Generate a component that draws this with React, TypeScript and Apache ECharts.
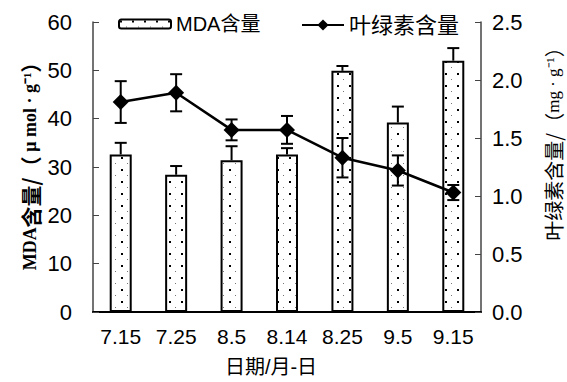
import React, { useEffect, useRef } from "react";
import * as echarts from "echarts";

const categories = ["7.15", "7.25", "8.5", "8.14", "8.25", "9.5", "9.15"];
const mdaValues = [32.6, 28.4, 31.4, 32.6, 49.9, 39.2, 52.0];
const mdaErrors = [2.4, 1.8, 2.9, 1.3, 1.0, 3.3, 2.6];
const chlValues = [1.81, 1.89, 1.57, 1.57, 1.33, 1.22, 1.03];
const chlErrors = [0.18, 0.16, 0.09, 0.12, 0.17, 0.13, 0.065];
const leftTicks = [0, 10, 20, 30, 40, 50, 60];
const rightTicks = [0, 0.5, 1.0, 1.5, 2.0, 2.5];

function makePattern(): HTMLCanvasElement {
  const c = document.createElement("canvas");
  c.width = 12;
  c.height = 12;
  const ctx = c.getContext("2d")!;
  ctx.fillStyle = "#fff";
  ctx.fillRect(0, 0, 12, 12);
  ctx.fillStyle = "#000";
  ctx.fillRect(1, 1, 2, 2);
  ctx.fillStyle = "#777";
  ctx.fillRect(7, 7, 1, 1);
  return c;
}

export default function App() {
  const ref = useRef<HTMLDivElement>(null);
  useEffect(() => {
    const chart = echarts.init(ref.current!, null, { renderer: "svg" });
    const sans = "'Liberation Sans', Arial, 'Noto Sans CJK SC', sans-serif";
    const serif = "'Liberation Serif', 'Times New Roman', serif";
    const cjk = "'Noto Sans CJK SC', sans-serif";
    const pattern = makePattern();
    const errRender = (up: boolean, down: boolean) => (params: any, api: any) => {
      const i = api.value(0);
      const v = api.value(1);
      const e = api.value(2);
      const c = api.coord([i, v]);
      const t = api.coord([i, v + e]);
      const b = api.coord([i, v - e]);
      const hw = 6;
      const children: any[] = [];
      const st = { stroke: "#000", lineWidth: 2 };
      if (up) {
        children.push({ type: "line", shape: { x1: c[0], y1: c[1], x2: t[0], y2: t[1] }, style: st });
        children.push({ type: "line", shape: { x1: t[0] - hw, y1: t[1], x2: t[0] + hw, y2: t[1] }, style: st });
      }
      if (down) {
        children.push({ type: "line", shape: { x1: c[0], y1: c[1], x2: b[0], y2: b[1] }, style: st });
        children.push({ type: "line", shape: { x1: b[0] - hw, y1: b[1], x2: b[0] + hw, y2: b[1] }, style: st });
      }
      return { type: "group", children };
    };
    chart.setOption({
      animation: false,
      grid: { left: 93, right: 86, top: 22, bottom: 70 },
      legend: [
        {
          data: ["MDA含量"],
          left: 113,
          top: 9,
          itemWidth: 52,
          itemHeight: 9,
          textStyle: { fontSize: 20, fontFamily: sans, color: "#000" },
        },
        {
          data: ["叶绿素含量"],
          left: 296,
          top: 9,
          itemWidth: 42,
          itemHeight: 14,
          textStyle: { fontSize: 22, fontFamily: sans, color: "#000" },
        },
      ],
      xAxis: {
        type: "category",
        data: categories,
        boundaryGap: true,
        axisLine: { lineStyle: { color: "#000", width: 2 } },
        axisTick: { inside: true, length: 6, lineStyle: { color: "#000", width: 1.5 } },
        axisLabel: { fontSize: 21, fontFamily: sans, color: "#000", margin: 14 },
      },
      yAxis: [
        {
          type: "value",
          min: 0,
          max: 60,
          interval: 10,
          splitLine: { show: false },
          axisLine: { show: true, lineStyle: { color: "#444", width: 1.5 } },
          axisTick: { show: true, inside: true, length: 6, lineStyle: { color: "#444" } },
          axisLabel: { fontSize: 22, fontFamily: sans, color: "#000", margin: 21 },
        },
        {
          type: "value",
          min: 0,
          max: 2.5,
          interval: 0.5,
          splitLine: { show: false },
          axisLine: { show: true, lineStyle: { color: "#444", width: 1.5 } },
          axisTick: { show: true, inside: true, length: 6, lineStyle: { color: "#444" } },
          axisLabel: {
            fontSize: 22,
            fontFamily: sans,
            color: "#000",
            margin: 11,
            formatter: (v: number) => v.toFixed(1),
          },
        },
      ],
      graphic: [
        {
          type: "text",
          x: 30,
          y: 161,
          rotation: Math.PI / 2,
          style: {
            text: "{a|MDA}{b|含量/（}{a| μ mol · g⁻¹}{b|）}",
            align: "center",
            verticalAlign: "middle",
            fill: "#000",
            rich: {
              a: { fontSize: 18, fontWeight: "bold", fontFamily: serif, fill: "#000" },
              b: { fontSize: 21, fontWeight: "bold", fontFamily: cjk, fill: "#000" },
            },
          },
        },
        {
          type: "text",
          x: 553,
          y: 139,
          rotation: Math.PI / 2,
          style: {
            text: "{b|叶绿素含量/（}{a|mg · g⁻¹}{b|）}",
            align: "center",
            verticalAlign: "middle",
            fill: "#000",
            rich: {
              a: { fontSize: 17, fontFamily: serif, fill: "#000" },
              b: { fontSize: 20, fontFamily: cjk, fill: "#000" },
            },
          },
        },
        {
          type: "text",
          x: 271,
          y: 367,
          style: {
            text: "日期/月-日",
            font: "20px " + sans,
            fill: "#000",
            align: "center",
            verticalAlign: "middle",
          },
        },
      ],
      series: [
        {
          name: "MDA含量",
          type: "bar",
          data: mdaValues,
          barWidth: 22,
          yAxisIndex: 0,
          itemStyle: {
            color: { image: pattern, repeat: "repeat", imageWidth: 12, imageHeight: 12 },
            borderColor: "#000",
            borderWidth: 2,
          },
          z: 1,
        },
        {
          type: "custom",
          yAxisIndex: 0,
          data: mdaValues.map((v, i) => [i, v, mdaErrors[i]]),
          renderItem: errRender(true, false),
          z: 2,
          silent: true,
        },
        {
          name: "叶绿素含量",
          type: "line",
          yAxisIndex: 1,
          data: chlValues,
          symbol: "diamond",
          symbolSize: 16,
          lineStyle: { color: "#000", width: 2.5 },
          itemStyle: { color: "#000" },
          z: 4,
        },
        {
          type: "custom",
          yAxisIndex: 1,
          data: chlValues.map((v, i) => [i, v, chlErrors[i]]),
          renderItem: errRender(true, true),
          z: 3,
          silent: true,
        },
      ],
    });
    return () => chart.dispose();
  }, []);
  return (
    <div
      ref={ref}
      style={{ position: "absolute", left: 0, top: 0, width: 567, height: 382 }}
    />
  );
}
